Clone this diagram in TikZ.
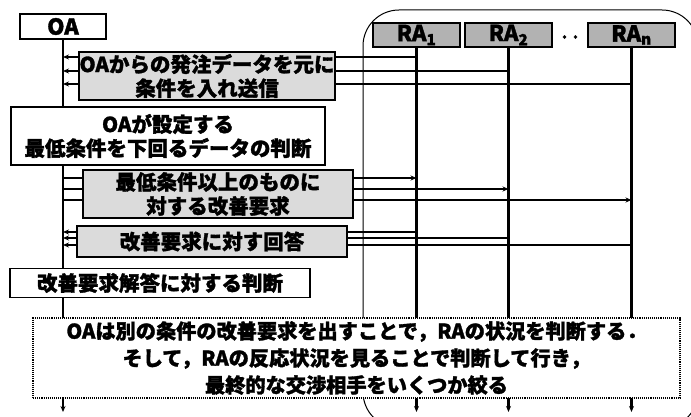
\documentclass[tikz,border=0pt]{standalone}
\usepackage{fontspec}
\setmainfont{Noto Sans CJK JP}[BoldFeatures={FakeBold=1.5}]
\usetikzlibrary{arrows.meta}
\tikzset{
  lifeline/.style={line width=2.1pt},
  msgto/.style={line width=2.2pt,-{Stealth[length=6pt,width=5pt]}},
  box/.style={draw,line width=1.1pt,inner sep=0pt,align=center,font=\bfseries\fontsize{20.5}{24}\selectfont},
  shadebox/.style={box,fill=black!14},
  whitebox/.style={box,fill=white},
  rabox/.style={draw,line width=1.1pt,inner sep=0pt,fill=black!30,minimum width=87pt,minimum height=24pt,font=\bfseries\fontsize{22}{22}\selectfont},
  notebox/.style={draw,densely dotted,line width=1.1pt,fill=white,inner sep=0pt,align=center,font=\bfseries\fontsize{20.2}{27}\selectfont},
  region/.style={line width=1pt,rounded corners=36pt}
}
\begin{document}
\begin{tikzpicture}[x=1pt,y=-1pt]
\useasboundingbox (0,0) rectangle (691,417);
\clip (0,0) rectangle (691,417);
% region around RAs
\draw[region] (363,10) rectangle (698,428);
% header nodes
\node[whitebox,minimum width=86pt,minimum height=25pt,font=\bfseries\fontsize{22}{22}\selectfont] (oa) at (63,26.5) {OA};
\node[rabox] (ra1) at (416.5,35) {RA\textsubscript{1}};
\node[rabox] (ra2) at (508.5,35) {RA\textsubscript{2}};
\node[rabox] (ran) at (631.5,35) {RA\textsubscript{n}};
\node[font=\bfseries\fontsize{16}{18}\selectfont] (dots) at (570,37) {.\,\,.};
% bottom ends of lifelines
\coordinate (bot) at (0,412);
\draw[lifeline,-{Stealth[length=6pt,width=5pt]}] (oa.south) -- (oa.south |- bot) coordinate (oaend);
\draw[lifeline,-{Stealth[length=6pt,width=5pt]}] (ra1.south) -- (ra1.south |- bot) coordinate (ra1end);
\draw[lifeline,-{Stealth[length=6pt,width=5pt]}] (ra2.south) -- (ra2.south |- bot) coordinate (ra2end);
\draw[lifeline,-{Stealth[length=6pt,width=5pt]}] (ran.south) -- (ran.south |- bot) coordinate (ranend);
% message rows
\coordinate (a1) at (0,57);  \coordinate (a2) at (0,71);  \coordinate (a3) at (0,84);
\coordinate (b1) at (0,178); \coordinate (b2) at (0,189); \coordinate (b3) at (0,200);
\coordinate (c1) at (0,232); \coordinate (c2) at (0,238); \coordinate (c3) at (0,245);
% RA -> OA (send)
\draw[msgto] (ra1.south |- a1) -- (oa.south |- a1);
\draw[msgto] (ra2.south |- a2) -- (oa.south |- a2);
\draw[msgto] (ran.south |- a3) -- (oa.south |- a3);
% OA -> RA (improvement request)
\draw[msgto] (oa.south |- b1) -- (ra1.south |- b1);
\draw[msgto] (oa.south |- b2) -- (ra2.south |- b2);
\draw[msgto] (oa.south |- b3) -- (ran.south |- b3);
% RA -> OA (answers)
\draw[msgto] (ra1.south |- c1) -- (oa.south |- c1);
\draw[msgto] (ra2.south |- c2) -- (oa.south |- c2);
\draw[msgto] (ran.south |- c3) -- (oa.south |- c3);
% boxes
\node[shadebox,minimum width=256pt,minimum height=48pt] (s1) at (207,76)
  {OAからの発注データを元に\\条件を入れ送信};
\node[whitebox,minimum width=314pt,minimum height=58pt] (s2) at (168,136)
  {OAが設定する\\最低条件を下回るデータの判断};
\node[shadebox,minimum width=270pt,minimum height=48pt] (s3) at (218,194)
  {最低条件以上のものに\\対する改善要求};
\node[shadebox,minimum width=270pt,minimum height=31pt] (s4) at (212,241.5)
  {改善要求に対す回答};
\node[whitebox,minimum width=300pt,minimum height=29pt] (s5) at (160,283)
  {改善要求解答に対する判断};
\node[notebox,minimum width=647pt,minimum height=80pt] (s6) at (356.5,358)
  {OAは別の条件の改善要求を出すことで，RAの状況を判断する．\\
   そして，RAの反応状況を見ることで判断して行き，\\
   最終的な交渉相手をいくつか絞る};
\end{tikzpicture}
\end{document}
